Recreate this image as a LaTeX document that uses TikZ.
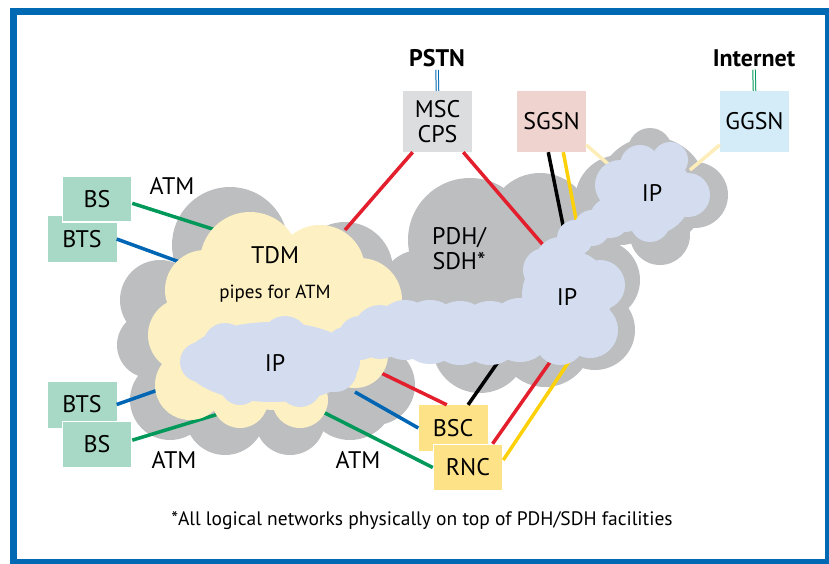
\documentclass[tikz,border=0pt]{standalone}
\usepackage{fontspec}
\setmainfont{PT Sans}
\definecolor{frameblue}{RGB}{0,105,180}
\definecolor{greycloud}{RGB}{188,190,192}
\definecolor{yellowcloud}{RGB}{253,240,194}
\definecolor{bluecloud}{RGB}{212,221,239}
\definecolor{mscgrey}{RGB}{220,221,222}
\definecolor{sgsnpink}{RGB}{239,211,207}
\definecolor{ggsnblue}{RGB}{211,236,248}
\definecolor{bsgreen}{RGB}{168,216,198}
\definecolor{bscyellow}{RGB}{254,226,136}
\definecolor{linkred}{RGB}{227,30,45}
\definecolor{linkgreen}{RGB}{0,153,90}
\definecolor{linkblue}{RGB}{0,102,179}
\definecolor{linkyellow}{RGB}{253,209,10}
\definecolor{linkpale}{RGB}{253,237,184}
\tikzset{
  box/.style={minimum width=69pt, minimum height=46pt, inner sep=0pt,
    font=\fontsize{24}{25}\selectfont},
  tallbox/.style={box, minimum height=61pt, align=center},
  ontop/.style={draw=white, line width=1.5pt},
  link/.style={line width=3.5pt},
  dbl/.style={line width=1pt, double=white, double distance=1.5pt},
  lbl/.style={font=\fontsize{24}{25}\selectfont, inner sep=0pt},
  head/.style={font=\fontsize{24}{25}\selectfont\bfseries, inner sep=3pt}
}
\begin{document}
\begin{tikzpicture}[x=1pt,y=-1pt]
	\useasboundingbox (0,0) rectangle (829,563);
	\draw[frameblue, line width=7pt] (13.5,11.5) rectangle (828.5,562);

	% grey PDH/SDH clouds
	\foreach \cx/\cy/\r in {230/245/58, 160/300/40, 150/345/33, 170/400/40,
		225/415/40, 290/420/35, 350/395/45, 375/385/40, 345/270/48, 260/330/100,
		470/240/62, 540/225/52, 420/290/40, 500/290/60, 480/345/48, 545/340/47,
		595/330/40, 600/280/40,
		652/192/55, 620/200/45, 695/195/33, 650/150/22, 660/235/30}
		\fill[greycloud] (\cx,\cy) circle (\r pt);

	% boxes
	\node[head] (pstn) at (437,58) {PSTN};
	\node[head] (inet) at (754,58) {Internet};
	\node[tallbox, fill=mscgrey] (msc) at (437.5,121.5) {MSC\\CPS};
	\node[tallbox, fill=sgsnpink] (sgsn) at (551.5,121.5) {SGSN};
	\node[tallbox, fill=ggsnblue] (ggsn) at (754.5,121.5) {GGSN};
	\node[box, fill=bsgreen] (btsA) at (82,239) {BTS};
	\node[box, fill=bsgreen, ontop] (bsA) at (97,199) {BS};
	\node[box, fill=bsgreen] (btsB) at (82,404.5) {BTS};
	\node[box, fill=bsgreen, ontop] (bsB) at (97,444.5) {BS};
	\node[box, fill=bscyellow] (bsc) at (453,428) {BSC};
	\node[box, fill=bscyellow, ontop] (rnc) at (468,467.5) {RNC};

	% free ends inside the clouds
	\coordinate (tdmA) at (222,232);
	\coordinate (tdmB) at (185,264);
	\coordinate (tdmC) at (175,384);
	\coordinate (tdmD) at (225,412);
	\coordinate (tdmE) at (345,230);
	\coordinate (tdmF) at (375,370);
	\coordinate (tdmG) at (355,392);
	\coordinate (tdmH) at (315,408);
	\coordinate (ipB1) at (550,253);
	\coordinate (ipB2) at (566,240);
	\coordinate (ipB3) at (580,240);
	\coordinate (ipB4) at (505,352);
	\coordinate (ipB5) at (562,345);
	\coordinate (ipB6) at (580,345);
	\coordinate (ipC1) at (615,170);
	\coordinate (ipC2) at (690,170);

	\draw[dbl, frameblue] (pstn.south) -- (msc.north);
	\draw[dbl, linkgreen] (inet.south) -- (ggsn.north);

	\draw[link, linkgreen] (bsA.353) -- (tdmA);
	\draw[link, linkblue] (btsA.east) -- (tdmB);
	\draw[link, linkblue] (btsB.east) -- (tdmC);
	\draw[link, linkgreen] (bsB.7) -- (tdmD);
	\draw[link, linkred] (msc.231) -- (tdmE);
	\draw[link, linkred] (msc.310) -- (ipB1);
	\draw[link] (sgsn.264) -- (ipB2);
	\draw[link, linkyellow] (sgsn.291) -- (ipB3);
	\draw[link, linkpale] (sgsn.326) -- (ipC1);
	\draw[link, linkpale] (ggsn.214) -- (ipC2);
	\draw[link, linkred] (bsc.105) -- (tdmF);
	\draw[link, linkblue] (bsc.west) -- (tdmG);
	\draw[link, linkgreen] (rnc.west) -- (tdmH);
	\draw[link] (bsc.57) -- (ipB4);
	\draw[link, linkred] (rnc.44) -- (ipB5);
	\draw[link, linkyellow] (rnc.12) -- (ipB6);

	% TDM cloud
	\foreach \cx/\cy/\r in {250/262/50, 320/270/45, 205/290/40, 185/335/37,
		190/385/35, 240/400/28, 300/400/28, 355/355/33, 360/300/42, 275/335/75}
		\fill[yellowcloud] (\cx,\cy) circle (\r pt);

	% IP clouds
	\fill[bluecloud] (272,362) ellipse (88pt and 40pt);
	\foreach \cx/\cy/\r in {285/340/24, 225/345/22, 300/385/22, 240/385/20,
		200/362/20, 335/370/22, 345/345/18, 360/338/22, 380/332/27, 405/330/30,
		430/332/32, 460/333/32, 490/333/32, 520/330/32,
		567/295/45, 560/262/25, 545/270/22, 590/330/28, 560/340/25, 600/285/25,
		575/238/18, 592/228/18, 610/218/20, 625/210/22,
		650/193/42, 620/185/25, 688/195/22, 640/165/20, 670/160/18, 650/222/20}
		\fill[bluecloud] (\cx,\cy) circle (\r pt);

	\node[lbl] (tdm) at (275,255) {TDM};
	\node[lbl, font=\fontsize{19}{20}\selectfont] (pipes) at (275,294) {pipes for ATM};
	\node[lbl] (ipA) at (275,363) {IP};
	\node[lbl, align=center] (pdh) at (459,249) {PDH/\\SDH*};
	\node[lbl] (ipB) at (567,297) {IP};
	\node[lbl] (ipC) at (652,193) {IP};
	\node[lbl] (atmA) at (172,186) {ATM};
	\node[lbl] (atmB) at (174,460) {ATM};
	\node[lbl] (atmC) at (358,460) {ATM};
	\node[lbl, font=\fontsize{19.5}{21}\selectfont] (note) at (422,521)
		{*All logical networks physically on top of PDH/SDH facilities};
\end{tikzpicture}
\end{document}
